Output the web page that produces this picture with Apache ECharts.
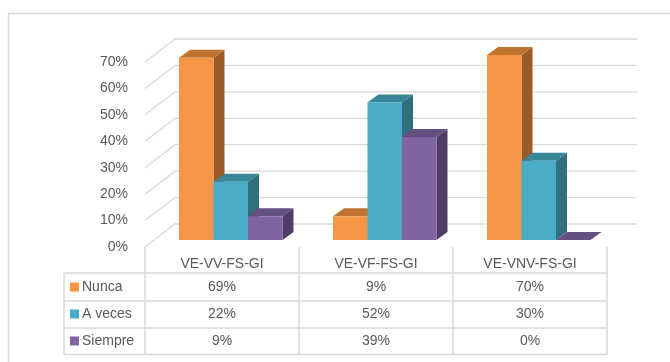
<!DOCTYPE html>
<html>
<head>
<meta charset="utf-8">
<script src="https://cdn.jsdelivr.net/npm/echarts@6/dist/echarts.min.js"></script>
<style>
  html, body { margin: 0; padding: 0; background: #ffffff; }
  #chart { width: 670px; height: 362px; }
</style>
</head>
<body>
<div id="chart"></div>
<script>
// Categories and percentages per answer
const categories = ['VE-VV-FS-GI', 'VE-VF-FS-GI', 'VE-VNV-FS-GI'];
const seriesNames = ['Nunca', 'A veces', 'Siempre'];
const nunca = [69, 9, 70];
const aVeces = [22, 52, 30];
const siempre = [9, 39, 0];
const gridTicks = [0, 10, 20, 30, 40, 50, 60, 70];

const seriesValues = [nunca, aVeces, siempre];

// Face shades: front, top, side
const palette = [
  { front: '#F79646', top: '#C0722F', side: '#9A5B29' },
  { front: '#4BACC6', top: '#3A8699', side: '#316E7E' },
  { front: '#8064A2', top: '#654E81', side: '#4F3D67' }
];

// Pseudo-3D geometry (pixels)
const WALL_DX = 30, WALL_DY = -23;     // back wall offset from the front floor edge
const BAR_OFF_X = 8.75, BAR_OFF_Y = -7; // bar front faces sit a little inside the floor
const DEPTH_X = 11, DEPTH_Y = -8;       // bar depth
const BAR_FRAC = 0.224;                 // bar width as a share of a category
const GRID_COLOR = '#d9d9d9';
const FONT = '"Liberation Sans", Arial, sans-serif';
const TEXT_COLOR = '#595959';

const GRID = { left: 145, right: 63, top: 62, bottom: 115 };
const ROW_LINES = [273, 301, 328, 354.5];
const TABLE_LEFT = 64;

function barRenderer(k) {
  return function (params, api) {
    const ci = api.value(0), v = api.value(1);
    const p0 = api.coord([ci, 0]);
    const p1 = api.coord([ci, v]);
    const bw = api.size([1, 0])[0] * BAR_FRAC;
    const x0 = p0[0] - 1.5 * bw + k * bw + BAR_OFF_X;
    const x1 = x0 + bw;
    const yb = p0[1] + BAR_OFF_Y;
    const yt = p1[1] + BAR_OFF_Y;
    const c = palette[k];
    return {
      type: 'group',
      children: [
        { type: 'polygon', shape: { points: [[x1, yt], [x1 + DEPTH_X, yt + DEPTH_Y], [x1 + DEPTH_X, yb + DEPTH_Y], [x1, yb]] }, style: { fill: c.side } },
        { type: 'polygon', shape: { points: [[x0, yt], [x0 + DEPTH_X, yt + DEPTH_Y], [x1 + DEPTH_X, yt + DEPTH_Y], [x1, yt]] }, style: { fill: c.top } },
        { type: 'rect', shape: { x: x0, y: yt, width: bw, height: Math.max(yb - yt, 0) }, style: { fill: c.front } }
      ]
    };
  };
}

function wallRenderer(params, api) {
  const cs = params.coordSys;
  const y = api.coord([0, api.value(1)])[1];
  return {
    type: 'polyline',
    shape: { points: [[cs.x, y], [cs.x + WALL_DX, y + WALL_DY], [cs.x + cs.width + WALL_DX, y + WALL_DY]] },
    style: { stroke: GRID_COLOR, lineWidth: 1.3, fill: null }
  };
}

function tableRenderer(params, api) {
  const ci = api.value(0);
  const x = api.coord([ci, 0])[0];
  const children = seriesValues.map(function (vals, r) {
    return {
      type: 'text',
      style: {
        text: vals[ci] + '%',
        x: x,
        y: (ROW_LINES[r] + ROW_LINES[r + 1]) / 2,
        align: 'center',
        verticalAlign: 'middle',
        fill: TEXT_COLOR,
        fontSize: 14,
        fontFamily: FONT
      }
    };
  });
  return { type: 'group', children: children };
}

const series = [
  {
    type: 'custom',
    name: 'walls',
    silent: true,
    renderItem: wallRenderer,
    data: gridTicks.map(function (t) { return [0, t]; }),
    encode: { x: 0, y: 1 },
    z: 1
  }
];
seriesNames.forEach(function (name, k) {
  series.push({
    type: 'custom',
    name: name,
    renderItem: barRenderer(k),
    data: seriesValues[k].map(function (v, i) { return [i, v]; }),
    encode: { x: 0, y: 1 },
    itemStyle: { color: palette[k].front },
    z: 2 + k
  });
});
series.push({
  type: 'custom',
  name: 'table',
  silent: true,
  renderItem: tableRenderer,
  data: categories.map(function (c, i) { return [i, 0]; }),
  encode: { x: 0, y: 1 },
  z: 10
});

// Table frame lines
const graphics = [
  { type: 'rect', shape: { x: 8.5, y: 13.5, width: 700, height: 400 }, style: { fill: null, stroke: GRID_COLOR, lineWidth: 1.5 }, silent: true },
  { type: 'line', shape: { x1: TABLE_LEFT, y1: ROW_LINES[0], x2: TABLE_LEFT, y2: ROW_LINES[3] }, style: { stroke: GRID_COLOR, lineWidth: 1.5 }, silent: true }
];
ROW_LINES.forEach(function (y) {
  graphics.push({ type: 'line', shape: { x1: TABLE_LEFT, y1: y, x2: 670 - GRID.right, y2: y }, style: { stroke: GRID_COLOR, lineWidth: 1.5 }, silent: true });
});

const chart = echarts.init(document.getElementById('chart'), null, { renderer: 'canvas' });
chart.setOption({
  animation: false,
  backgroundColor: '#ffffff',
  grid: GRID,
  legend: {
    orient: 'vertical',
    left: 70,
    top: 280,
    padding: 0,
    itemGap: 13,
    itemWidth: 9,
    itemHeight: 9,
    icon: 'rect',
    selectedMode: false,
    data: seriesNames,
    textStyle: { fontSize: 14, fontFamily: FONT, color: TEXT_COLOR, padding: [0, 0, 0, -2] }
  },
  xAxis: {
    type: 'category',
    data: categories,
    boundaryGap: true,
    axisLine: { show: false },
    axisTick: { show: true, interval: 0, length: 107.5, lineStyle: { color: GRID_COLOR, width: 1.5 } },
    axisLabel: { interval: 0, margin: 10, fontSize: 14, fontFamily: FONT, color: TEXT_COLOR },
    splitLine: { show: false }
  },
  yAxis: {
    type: 'value',
    min: 0,
    max: 70,
    interval: 10,
    axisLine: { show: false },
    axisTick: { show: false },
    splitLine: { show: false },
    axisLabel: { formatter: '{value}%', margin: 17, fontSize: 14, fontFamily: FONT, color: TEXT_COLOR }
  },
  graphic: graphics,
  series: series
});
</script>
</body>
</html>
